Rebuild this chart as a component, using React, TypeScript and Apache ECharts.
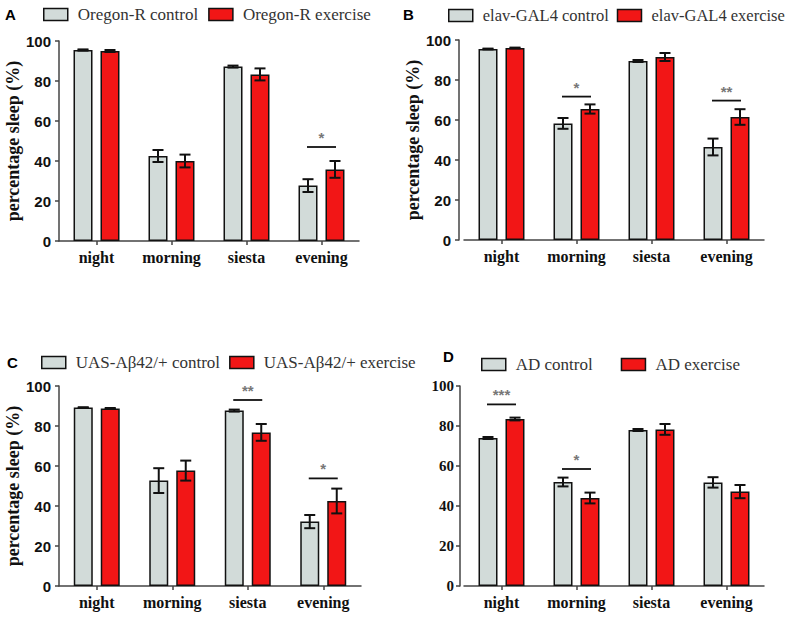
import React, { useEffect, useRef } from "react";
import * as echarts from "echarts";

const categories = ["night", "morning", "siesta", "evening"];
const yTicks = [0, 20, 40, 60, 80, 100];

// Panel A
const aNames = ["Oregon-R control", "Oregon-R exercise"];
const aCtrl = [95.5, 42.5, 87.2, 27.7];
const aCtrlErr = [0.3, 3.0, 0.5, 3.2];
const aEx = [95.0, 40.0, 83.3, 35.8];
const aExErr = [0.5, 3.2, 3.0, 4.2];
const aSigCat = [3];
const aSigY = [47];
const aSigLabel = ["*"];

// Panel B
const bNames = ["elav-GAL4 control", "elav-GAL4 exercise"];
const bCtrl = [95.5, 58.3, 89.5, 46.5];
const bCtrlErr = [0.2, 2.7, 0.5, 4.2];
const bEx = [96.0, 65.5, 91.5, 61.5];
const bExErr = [0.2, 2.3, 2.0, 3.9];
const bSigCat = [1, 3];
const bSigY = [71.7, 69.7];
const bSigLabel = ["*", "**"];

// Panel C
const cNames = ["UAS-Aβ42/+ control", "UAS-Aβ42/+ exercise"];
const cCtrl = [89.2, 52.7, 87.7, 32.2];
const cCtrlErr = [0.2, 6.2, 0.5, 3.3];
const cEx = [88.8, 57.7, 76.8, 42.5];
const cExErr = [0.2, 5.0, 4.2, 6.2];
const cSigCat = [2, 3];
const cSigY = [93, 53.8];
const cSigLabel = ["**", "*"];

// Panel D
const dNames = ["AD control", "AD exercise"];
const dCtrl = [74.0, 52.0, 78.0, 51.8];
const dCtrlErr = [0.5, 2.2, 0.5, 2.6];
const dEx = [83.5, 44.0, 78.3, 47.2];
const dExErr = [0.7, 2.7, 2.7, 3.3];
const dSigCat = [0, 1];
const dSigY = [90.8, 58.5];
const dSigLabel = ["***", "*"];

const CTRL_COLOR = "#d2dbd9";
const EX_COLOR = "#f21616";
const SERIF = "'Liberation Serif', 'Times New Roman', serif";
const SANS = "'Liberation Sans', Arial, sans-serif";
const BAR_W = 19;
const BAR_OFF = 13.5;

type Panel = {
  names: string[];
  ctrl: number[];
  ctrlErr: number[];
  ex: number[];
  exErr: number[];
  sigCat: number[];
  sigY: number[];
  sigLabel: string[];
  grid: { left: number; top: number; width: number; height: number };
  yOffset: number;
  yLabelFont: string;
  yLabelMargin: number;
  showName: boolean;
  legend: { left: number; top: number; itemGap: number; fontSize: number };
};

const panels: Panel[] = [
  {
    names: aNames, ctrl: aCtrl, ctrlErr: aCtrlErr, ex: aEx, exErr: aExErr,
    sigCat: aSigCat, sigY: aSigY, sigLabel: aSigLabel,
    grid: { left: 59, top: 41, width: 300, height: 200 },
    yOffset: 0, yLabelFont: SANS, yLabelMargin: 8, showName: true,
    legend: { left: 43, top: 6, itemGap: 10, fontSize: 17 },
  },
  {
    names: bNames, ctrl: bCtrl, ctrlErr: bCtrlErr, ex: bEx, exErr: bExErr,
    sigCat: bSigCat, sigY: bSigY, sigLabel: bSigLabel,
    grid: { left: 464, top: 40, width: 300, height: 200 },
    yOffset: 5, yLabelFont: SANS, yLabelMargin: 8, showName: true,
    legend: { left: 448, top: 7, itemGap: 8, fontSize: 16.5 },
  },
  {
    names: cNames, ctrl: cCtrl, ctrlErr: cCtrlErr, ex: cEx, exErr: cExErr,
    sigCat: cSigCat, sigY: cSigY, sigLabel: cSigLabel,
    grid: { left: 59, top: 386, width: 302, height: 200 },
    yOffset: 0, yLabelFont: SANS, yLabelMargin: 8, showName: true,
    legend: { left: 41, top: 354, itemGap: 9, fontSize: 17 },
  },
  {
    names: dNames, ctrl: dCtrl, ctrlErr: dCtrlErr, ex: dEx, exErr: dExErr,
    sigCat: dSigCat, sigY: dSigY, sigLabel: dSigLabel,
    grid: { left: 464, top: 386, width: 300, height: 200 },
    yOffset: 4, yLabelFont: SERIF, yLabelMargin: 6, showName: false,
    legend: { left: 481, top: 356, itemGap: 28, fontSize: 17 },
  },
];

function buildOption() {
  const grid: any[] = [];
  const xAxis: any[] = [];
  const yAxis: any[] = [];
  const legend: any[] = [];
  const series: any[] = [];

  panels.forEach((p, i) => {
    grid.push({ ...p.grid });
    xAxis.push({
      type: "category",
      gridIndex: i,
      data: categories,
      axisLine: { show: true, lineStyle: { color: "#444", width: 1.5 } },
      axisTick: { show: true, alignWithLabel: true, length: 4, lineStyle: { color: "#444", width: 1.5 } },
      axisLabel: { interval: 0, fontFamily: SERIF, fontWeight: "bold", fontSize: 16, color: "#111", margin: 8 },
      splitLine: { show: false },
    });
    yAxis.push({
      type: "value",
      gridIndex: i,
      min: 0,
      max: 100,
      interval: 20,
      offset: p.yOffset,
      name: p.showName ? "percentage sleep (%)" : "",
      nameLocation: "middle",
      nameGap: 37,
      nameTextStyle: { fontFamily: SERIF, fontWeight: "bold", fontSize: 18, color: "#111" },
      axisLine: { show: true, lineStyle: { color: "#444", width: 1.5 } },
      axisTick: { show: true, length: 4, lineStyle: { color: "#444", width: 1.5 } },
      axisLabel: {
        fontFamily: p.yLabelFont, fontWeight: "bold", fontSize: 15, color: "#111",
        margin: p.yLabelMargin,
        formatter: (v: number) => (yTicks.includes(v) ? String(v) : ""),
      },
      splitLine: { show: false },
    });
    legend.push({
      left: p.legend.left,
      top: p.legend.top,
      padding: 0,
      width: 400,
      orient: "horizontal",
      itemGap: p.legend.itemGap,
      itemWidth: 24,
      itemHeight: 12,
      icon: "rect",
      data: p.names,
      selectedMode: false,
      itemStyle: { borderColor: "#111", borderWidth: 1.5 },
      textStyle: { fontFamily: SERIF, fontSize: p.legend.fontSize, color: "#333", padding: [0, 0, 0, 5] },
    });

    const groups = [
      { name: p.names[0], vals: p.ctrl, errs: p.ctrlErr, color: CTRL_COLOR, off: -BAR_OFF },
      { name: p.names[1], vals: p.ex, errs: p.exErr, color: EX_COLOR, off: BAR_OFF },
    ];
    groups.forEach((g) => {
      series.push({
        type: "bar",
        name: g.name,
        xAxisIndex: i,
        yAxisIndex: i,
        data: g.vals,
        barWidth: BAR_W,
        barGap: "42%",
        itemStyle: { color: g.color, borderColor: "#111", borderWidth: 1.5 },
      });
    });
    groups.forEach((g) => {
      series.push({
        type: "custom",
        name: g.name + " err",
        xAxisIndex: i,
        yAxisIndex: i,
        z: 5,
        data: g.vals.map((v, k) => [k, v - g.errs[k], v + g.errs[k]]),
        encode: { x: 0, y: [1, 2] },
        renderItem: (params: any, api: any) => {
          const cat = api.value(0);
          const top = api.coord([cat, api.value(2)]);
          const bot = api.coord([cat, api.value(1)]);
          const x = top[0] + g.off;
          const st = { stroke: "#111", lineWidth: 2 };
          return {
            type: "group",
            children: [
              { type: "line", shape: { x1: x, y1: top[1], x2: x, y2: bot[1] }, style: st },
              { type: "line", shape: { x1: x - 5.5, y1: top[1], x2: x + 5.5, y2: top[1] }, style: st },
              { type: "line", shape: { x1: x - 5.5, y1: bot[1], x2: x + 5.5, y2: bot[1] }, style: st },
            ],
          };
        },
      });
    });
    const labels = p.sigLabel;
    series.push({
      type: "custom",
      name: "sig" + i,
      xAxisIndex: i,
      yAxisIndex: i,
      z: 6,
      data: p.sigCat.map((c, k) => [c, p.sigY[k]]),
      encode: { x: 0, y: 1 },
      renderItem: (params: any, api: any) => {
        const pt = api.coord([api.value(0), api.value(1)]);
        return {
          type: "group",
          children: [
            {
              type: "line",
              shape: { x1: pt[0] - 14.5, y1: pt[1], x2: pt[0] + 14.5, y2: pt[1] },
              style: { stroke: "#111", lineWidth: 1.8 },
            },
            {
              type: "text",
              x: pt[0],
              y: pt[1] - 2,
              style: {
                text: labels[params.dataIndex],
                fill: "#777",
                font: "bold 15px " + SANS,
                align: "center",
                verticalAlign: "bottom",
              },
            },
          ],
        };
      },
    });
  });

  const letters = [
    { t: "A", x: 5, y: 15 },
    { t: "B", x: 403, y: 15 },
    { t: "C", x: 7, y: 363 },
    { t: "D", x: 443, y: 357 },
  ];

  return {
    animation: false,
    backgroundColor: "#ffffff",
    grid,
    xAxis,
    yAxis,
    legend,
    series,
    graphic: letters.map((l) => ({
      type: "text",
      left: l.x,
      top: l.y - 8,
      style: { text: l.t, font: "bold 15px " + SANS, fill: "#000" },
    })),
  };
}

export default function App() {
  const ref = useRef<HTMLDivElement>(null);
  useEffect(() => {
    if (!ref.current) return;
    const chart = echarts.init(ref.current, undefined, { renderer: "svg" });
    chart.setOption(buildOption());
    return () => chart.dispose();
  }, []);
  return (
    <div
      ref={ref}
      style={{ position: "fixed", left: 0, top: 0, width: 794, height: 620, background: "#fff" }}
    />
  );
}
